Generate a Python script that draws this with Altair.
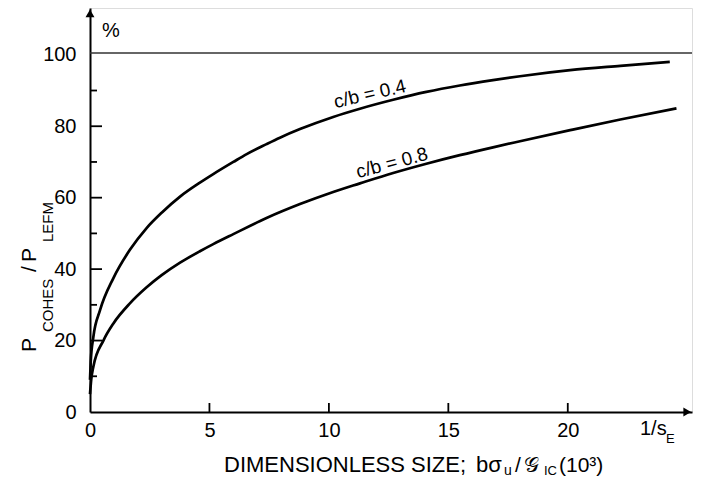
import altair as alt
import pandas as pd

FONT = "Liberation Sans"

# curve c/b = 0.4
x04 = [0, 0.03, 0.14, 0.42, 0.98, 1.67, 2.37, 3.0, 3.77, 4.6, 5.16, 6.0, 6.56, 7.39, 7.95,
       8.79, 10.18, 11.3, 12.69, 14.08, 15.48, 16.87, 18.0, 20.1, 22.2, 24.27]
y04 = [9, 14, 21, 28.5, 37.5, 45.4, 51.5, 55.8, 60.3, 64.2, 66.6, 70.0, 72.2, 75.0, 76.8,
       79.2, 82.6, 84.9, 87.4, 89.6, 91.4, 92.9, 94.0, 95.7, 96.9, 98.0]
# curve c/b = 0.8
x08 = [0, 0.05, 0.14, 0.56, 0.98, 1.67, 2.37, 3.0, 3.77, 4.6, 5.16, 6.0, 7.39, 8.79, 10.18,
       11.3, 12.69, 14.08, 15.48, 16.87, 18.0, 20.1, 22.2, 24.55]
y08 = [5, 9, 12.7, 20, 24.8, 30.4, 34.9, 38.3, 41.8, 45.0, 47.0, 49.8, 54.3, 58.2, 61.6,
       64.0, 66.9, 69.5, 71.9, 74.1, 75.8, 78.9, 81.9, 85.0]

x_ticks = [5, 10, 15, 20]
x_labels = [0, 5, 10, 15, 20]
y_major = [20, 40, 60, 80]
y_minor = [10, 30, 50, 70, 90]
y_labels = [0, 20, 40, 60, 80, 100]
ref_level = [100.5]

curve_labels = ["c/b = 0.4", "c/b = 0.8"]
curve_label_x = [11.72, 12.64]
curve_label_y = [89.0, 69.7]
curve_label_angle = [347, 345]

XMAX = 25.2
YMAX = 113.1

xs = alt.Scale(domain=[0, XMAX], nice=False, zero=False)
ys = alt.Scale(domain=[0, YMAX], nice=False, zero=False)

ax_x = alt.Axis(values=x_labels, ticks=False, domain=True, domainColor="black",
                domainWidth=2, labelFontSize=20, labelFont=FONT, labelColor="black",
                labelPadding=8, grid=False, title=None, labelFlush=False)
ax_y = alt.Axis(values=y_labels, ticks=False, domain=True, domainColor="black",
                domainWidth=2, labelFontSize=20, labelFont=FONT, labelColor="black",
                labelPadding=14, grid=False, title=None)

def X(f):
    return alt.X(f, scale=xs, axis=ax_x, title=None)

def Y(f):
    return alt.Y(f, scale=ys, axis=ax_y, title=None)

curves = pd.DataFrame(
    {"x": x04 + x08, "y": y04 + y08,
     "series": ["0.4"] * len(x04) + ["0.8"] * len(x08)}
)

base = alt.Chart(curves).mark_line(color="black", strokeWidth=2.7, interpolate="monotone").encode(
    x=X("x:Q"), y=Y("y:Q"), detail="series:N")

ref = alt.Chart(pd.DataFrame({"y": ref_level, "x0": [0], "x1": [XMAX]})).mark_rule(
    color="#333", strokeWidth=1.4).encode(x=X("x0:Q"), x2="x1:Q", y=Y("y:Q"))

ymaj = alt.Chart(pd.DataFrame({"y": y_major})).mark_rule(color="black", strokeWidth=1.8).encode(
    y=Y("y:Q"), x=alt.value(0), x2=alt.value(12))
ymin = alt.Chart(pd.DataFrame({"y": y_minor})).mark_rule(color="black", strokeWidth=1.8).encode(
    y=Y("y:Q"), x=alt.value(0), x2=alt.value(7))
xt = alt.Chart(pd.DataFrame({"x": x_ticks})).mark_rule(color="black", strokeWidth=1.8).encode(
    x=X("x:Q"), y=alt.value(404), y2=alt.value(395))

arrow_x = alt.Chart(pd.DataFrame({"x": [25.0], "y": [0]})).mark_point(
    shape="triangle-right", filled=True, color="black", size=80, opacity=1).encode(
    x=X("x:Q"), y=Y("y:Q"))
arrow_y = alt.Chart(pd.DataFrame({"x": [0], "y": [111.6]})).mark_point(
    shape="triangle-up", filled=True, color="black", size=80, opacity=1).encode(
    x=X("x:Q"), y=Y("y:Q"))

lab_layers = []
for t, lx, ly, ang in zip(curve_labels, curve_label_x, curve_label_y, curve_label_angle):
    lab_layers.append(
        alt.Chart(pd.DataFrame({"x": [lx], "y": [ly]})).mark_text(
            text=t, fontSize=19, font=FONT, color="black", angle=ang, align="center", baseline="middle").encode(
            x=X("x:Q"), y=Y("y:Q"))
    )

one = pd.DataFrame({"k": [0]})

def txt(text, px, py, size=20, angle=0, align="left", baseline="alphabetic"):
    return alt.Chart(one).mark_text(text=text, fontSize=size, font=FONT, color="black",
                                    angle=angle, align=align, baseline=baseline).encode(
        x=alt.value(px), y=alt.value(py))

# pieces of text: (text, x px, y px, size, angle)
x_title_parts = [("DIMENSIONLESS SIZE;", 134, 464, 22, 0),
                 ("b\u03c3", 386, 464, 22, 0),
                 ("u", 414, 467, 14, 0),
                 ("/", 425, 464, 21, 0),
                 ("\U0001D4A2", 434, 464, 21, 0),
                 ("IC", 454, 467, 13, 0),
                 ("(10\u00b3)", 469, 464, 21, 0)]
y_title_parts = [("P", -54, 344, 21, 270),
                 ("COHES", -37, 324, 15, 270),
                 ("/", -54, 264, 21, 270),
                 ("P", -54, 254, 21, 270),
                 ("LEFM", -37, 234, 15, 270)]
other_parts = [("1/s", 550, 427, 20, 0),
               ("E", 576, 435, 13, 0),
               ("%", 12, 29, 20, 0)]

text_layers = [txt(t, px, py, s, a) for t, px, py, s, a in x_title_parts + y_title_parts + other_parts]

chart = alt.layer(base, ref, ymaj, ymin, xt, arrow_x, arrow_y, *lab_layers, *text_layers).properties(
    width=602, height=404,
    autosize=alt.AutoSizeParams(type="none"),
    padding={"left": 82, "top": 0, "right": 4, "bottom": 66},
).configure_view(strokeWidth=0).configure(background="white")

chart.save("out.html", embed_options={"renderer": "svg", "actions": False})
